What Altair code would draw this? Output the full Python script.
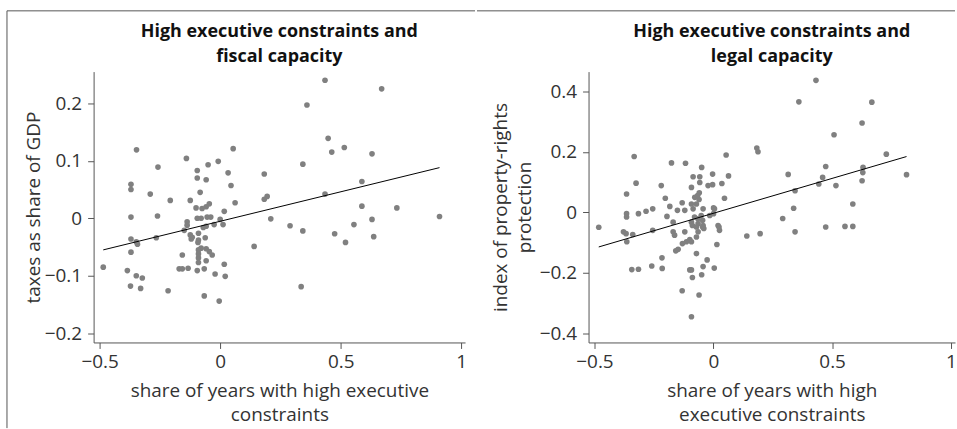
import altair as alt
import pandas as pd

FONT = "Open Sans"

# ---- Left panel: fiscal capacity ----
left_x = [0.435, 0.36, 0.67, 0.448, 0.463, 0.515, 0.63, 0.343, 0.435, 0.588,
          0.588, 0.733, 0.91, 0.183, 0.183, 0.195, 0.21, 0.29, 0.343, 0.336,
          0.475, 0.52, 0.555, 0.63, 0.637, 0.141, -0.347, -0.37, -0.37, -0.29,
          -0.258, -0.207, -0.14, -0.124, -0.095, -0.095, -0.058, -0.05, -0.008, 0.054,
          0.033, 0.045, -0.083, 0.062, -0.1, -0.075, -0.058, -0.045, 0.017, -0.37,
          -0.26, -0.137, -0.137, -0.095, -0.079, -0.054, -0.039, 0.0, 0.012, -0.025,
          -0.07, -0.058, -0.149, -0.124, -0.116, -0.12, -0.09, -0.09, -0.092, -0.062,
          -0.37, -0.348, -0.343, -0.37, -0.265, -0.485, -0.385, -0.348, -0.323, -0.372,
          -0.33, -0.216, -0.157, -0.17, -0.157, -0.133, -0.095, -0.066, -0.09, -0.09,
          -0.09, -0.09, -0.079, -0.058, -0.045, -0.033, -0.058, 0.017, -0.021, 0.021,
          -0.066, -0.004]
left_y = [0.240, 0.197, 0.225, 0.139, 0.115, 0.123, 0.112, 0.094, 0.042, 0.064,
          0.021, 0.018, 0.003, 0.077, 0.033, 0.038, -0.001, -0.013, -0.022, -0.119,
          -0.027, -0.042, -0.011, -0.002, -0.032, -0.049, 0.119, 0.059, 0.05, 0.042,
          0.089, 0.031, 0.104, 0.031, 0.083, 0.07, 0.067, 0.093, 0.099, 0.121,
          0.079, 0.057, 0.045, 0.027, 0.018, 0.017, 0.02, 0.025, 0.012, 0.002,
          0.004, -0.006, -0.012, 0.0, 0.0, 0.002, 0.002, -0.002, -0.011, -0.011,
          -0.016, -0.014, -0.021, -0.029, -0.033, -0.036, -0.026, -0.038, -0.042, -0.034,
          -0.036, -0.041, -0.045, -0.059, -0.034, -0.085, -0.091, -0.1, -0.104, -0.118,
          -0.122, -0.126, -0.064, -0.088, -0.088, -0.087, -0.091, -0.088, -0.055, -0.062,
          -0.069, -0.077, -0.052, -0.053, -0.058, -0.064, -0.074, -0.08, -0.097, -0.101,
          -0.135, -0.144]
left_fit_x = [-0.485, 0.91]
left_fit_y = [-0.055, 0.088]

# ---- Right panel: legal capacity ----
right_x = [0.432, 0.36, 0.667, 0.626, 0.508, 0.183, 0.188, 0.728, 0.813, 0.315,
           0.473, 0.63, 0.629, 0.626, 0.46, 0.444, 0.516, 0.344, 0.338, 0.587,
           0.141, 0.197, 0.292, 0.344, 0.473, 0.554, 0.587, -0.333, -0.325, -0.365,
           -0.219, -0.176, -0.117, -0.049, -0.085, -0.057, -0.057, -0.003, -0.022, -0.003,
           0.036, 0.064, 0.054, 0.047, -0.092, -0.202, -0.183, -0.131, -0.151, -0.12,
           -0.078, -0.06, -0.071, -0.092, -0.085, -0.043, 0.005, -0.365, -0.365, -0.315,
           -0.283, -0.255, -0.066, -0.059, -0.482, -0.378, -0.367, -0.364, -0.339, -0.343,
           -0.315, -0.259, -0.216, -0.215, -0.255, -0.195, -0.169, -0.169, -0.163, -0.158,
           -0.148, -0.12, -0.13, -0.113, -0.099, -0.092, -0.071, -0.064, -0.071, -0.064,
           -0.092, -0.088, -0.043, -0.04, 0.001, -0.015, 0.001, 0.02, 0.024, 0.026,
           0.015, -0.071, -0.026, -0.043, -0.049, 0.004, -0.099, -0.092, -0.088, -0.131,
           -0.06, -0.092, -0.079, -0.065, -0.051, -0.045, -0.045]
right_y = [0.437, 0.366, 0.365, 0.296, 0.257, 0.213, 0.201, 0.193, 0.125, 0.126,
           0.152, 0.149, 0.132, 0.105, 0.116, 0.094, 0.089, 0.072, 0.014, 0.028,
           -0.078, -0.07, -0.02, -0.064, -0.048, -0.046, -0.046, 0.185, 0.097, 0.061,
           0.089, 0.164, 0.163, 0.149, 0.118, 0.118, 0.099, 0.127, 0.089, 0.092,
           0.096, 0.121, 0.19, 0.047, 0.083, 0.047, 0.02, 0.032, 0.007, 0.007,
           0.05, 0.043, 0.028, 0.028, 0.012, 0.012, 0.012, -0.004, -0.015, -0.004,
           0.004, 0.012, 0.056, 0.065, -0.049, -0.064, -0.07, -0.097, -0.073, -0.189,
           -0.188, -0.177, -0.15, -0.185, -0.059, -0.013, -0.032, -0.064, -0.075, -0.127,
           -0.122, -0.064, -0.103, -0.097, -0.09, -0.097, -0.081, -0.064, -0.048, -0.037,
           -0.032, -0.043, -0.043, -0.053, 0.015, -0.01, -0.004, -0.043, -0.048, -0.059,
           -0.106, -0.136, -0.157, -0.179, -0.206, -0.184, -0.19, -0.19, -0.215, -0.259,
           -0.273, -0.345, -0.015, -0.021, -0.01, -0.026, -0.048]
right_fit_x = [-0.482, 0.813]
right_fit_y = [-0.114, 0.185]

x_ticks = [-0.5, 0, 0.5, 1]
left_y_ticks = [-0.2, -0.1, 0, 0.1, 0.2]
right_y_ticks = [-0.4, -0.2, 0, 0.2, 0.4]

left_title = ["High executive constraints and", "fiscal capacity"]
right_title = ["High executive constraints and", "legal capacity"]
left_xtitle = ["share of years with high executive", "constraints"]
right_xtitle = ["share of years with high", "executive constraints"]
left_ytitle = "taxes as share of GDP"
right_ytitle = ["index of property-rights", "protection"]

PW, PH = 373, 272
PW2 = 368
BORDER = "#555555"


def panel(xs, ys, fx, fy, xdom, ydom, yticks, title, xtitle, ytitle, width,
          top_x1, top_x2, left_border, ytitle_pad):
    df = pd.DataFrame({"x": xs, "y": ys})
    fdf = pd.DataFrame({"x": fx, "y": fy})
    X = alt.X("x:Q", scale=alt.Scale(domain=xdom, nice=False, zero=False),
              axis=alt.Axis(values=x_ticks, format="~g", title=xtitle,
                            labelPadding=4, titlePadding=10, titleLineHeight=24))
    Y = alt.Y("y:Q", scale=alt.Scale(domain=ydom, nice=False, zero=False),
              axis=alt.Axis(values=yticks, format="~g", title=ytitle,
                            labelPadding=6, titlePadding=ytitle_pad, titleLineHeight=24))
    pts = alt.Chart(df).mark_circle(size=32, color="#808080", opacity=1).encode(x=X, y=Y)
    fit = alt.Chart(fdf).mark_line(color="black", strokeWidth=1).encode(x=X, y=Y)
    one = pd.DataFrame({"k": [0]})
    top = alt.Chart(one).mark_rule(color=BORDER, strokeWidth=1).encode(
        x=alt.value(top_x1), x2=alt.value(top_x2), y=alt.value(-61))
    layers = [top, pts, fit]
    if left_border:
        lb = alt.Chart(one).mark_rule(color=BORDER, strokeWidth=1).encode(
            x=alt.value(-87), y=alt.value(-61), y2=alt.value(358))
        layers.append(lb)
    return alt.layer(*layers).properties(
        width=width, height=PH,
        title=alt.TitleParams(text=title, anchor="middle", font=FONT, fontSize=18,
                              fontWeight="bold", color="#111111", lineHeight=25,
                              offset=10, dy=66))


left = panel(left_x, left_y, left_fit_x, left_fit_y, [-0.525, 1.016], [-0.216, 0.255],
             left_y_ticks, left_title, left_xtitle, left_ytitle, PW, -87, 383, True, 1)
right = panel(right_x, right_y, right_fit_x, right_fit_y, [-0.525, 1.017], [-0.43, 0.466],
              right_y_ticks, right_title, right_xtitle, right_ytitle, PW2, -112, 368, False, 5)

chart = alt.hconcat(left, right, spacing=0).properties(
    padding={"left": 6, "top": 9, "right": 0, "bottom": 0}
).configure_view(stroke=None).configure_axis(
    grid=False, domainColor=BORDER, tickColor=BORDER, tickSize=6,
    labelFont=FONT, titleFont=FONT, labelFontSize=19, titleFontSize=19,
    titleFontWeight="normal", labelColor="#333333", titleColor="#333333",
)

chart.save("out.html", embed_options={"renderer": "svg", "actions": False})
